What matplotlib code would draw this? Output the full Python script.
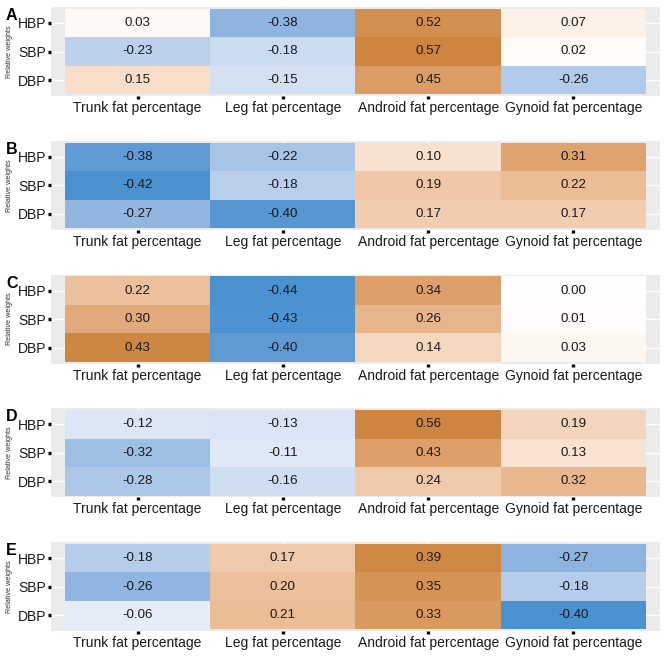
import numpy as np
import matplotlib
matplotlib.use("Agg")
import matplotlib.pyplot as plt
from matplotlib.colors import ListedColormap, Normalize

plt.rcParams['font.family'] = ['Liberation Sans', 'DejaVu Sans']

columns = ["Trunk fat percentage", "Leg fat percentage", "Android fat percentage", "Gynoid fat percentage"]
rows = ["HBP", "SBP", "DBP"]
panel_labels = ["A", "B", "C", "D", "E"]

# values[row][col]
values_A = [[0.03, -0.38, 0.52, 0.07],
            [-0.23, -0.18, 0.57, 0.02],
            [0.15, -0.15, 0.45, -0.26]]
values_B = [[-0.38, -0.22, 0.10, 0.31],
            [-0.42, -0.18, 0.19, 0.22],
            [-0.27, -0.40, 0.17, 0.17]]
values_C = [[0.22, -0.44, 0.34, 0.00],
            [0.30, -0.43, 0.26, 0.01],
            [0.43, -0.40, 0.14, 0.03]]
values_D = [[-0.12, -0.13, 0.56, 0.19],
            [-0.32, -0.11, 0.43, 0.13],
            [-0.28, -0.16, 0.24, 0.32]]
values_E = [[-0.18, 0.17, 0.39, -0.27],
            [-0.26, 0.20, 0.35, -0.18],
            [-0.06, 0.21, 0.33, -0.40]]
panels = [values_A, values_B, values_C, values_D, values_E]

LOW = (74, 145, 208)
HIGH = (205, 133, 63)
MID = (255, 255, 255)


# --- Lab interpolation (like scales::div_gradient_pal) ---
def _srgb_to_lin(c):
    c = np.asarray(c, float) / 255.0
    return np.where(c <= 0.04045, c / 12.92, ((c + 0.055) / 1.055) ** 2.4)


def _lin_to_srgb(c):
    c = np.clip(c, 0, 1)
    return np.where(c <= 0.0031308, 12.92 * c, 1.055 * c ** (1 / 2.4) - 0.055)


M = np.array([[0.4124, 0.3576, 0.1805], [0.2126, 0.7152, 0.0722], [0.0193, 0.1192, 0.9505]])
Minv = np.linalg.inv(M)
WP = np.array([0.95047, 1.0, 1.08883])


def rgb2lab(rgb):
    xyz = M @ _srgb_to_lin(rgb) / WP
    f = np.where(xyz > 0.008856, np.cbrt(xyz), 7.787 * xyz + 16 / 116)
    return np.array([116 * f[1] - 16, 500 * (f[0] - f[1]), 200 * (f[1] - f[2])])


def lab2rgb(lab):
    fy = (lab[0] + 16) / 116
    fx = fy + lab[1] / 500
    fz = fy - lab[2] / 200
    f = np.array([fx, fy, fz])
    xyz = np.where(f ** 3 > 0.008856, f ** 3, (f - 16 / 116) / 7.787) * WP
    return _lin_to_srgb(Minv @ xyz)


labL, labM, labH = rgb2lab(LOW), rgb2lab(MID), rgb2lab(HIGH)
cols = []
for t in np.linspace(0, 1, 256):
    if t < 0.5:
        s = t / 0.5
        lab = labL + (labM - labL) * s
    else:
        s = (t - 0.5) / 0.5
        lab = labM + (labH - labM) * s
    cols.append(lab2rgb(lab))
cmap = ListedColormap(np.clip(np.array(cols), 0, 1))

W, H = 669, 669
fig = plt.figure(figsize=(W / 100, H / 100), dpi=100)

left, right = 51, 660
ph = 89
step = 133.8
xexp, yexp = 0.096, 0.06

for i, (vals, lab) in enumerate(zip(panels, panel_labels)):
    top = 7 + step * i
    ax = fig.add_axes([left / W, 1 - (top + ph) / H, (right - left) / W, ph / H])
    ax.set_facecolor("#EBEBEB")
    ax.set_axisbelow(True)
    ax.grid(True, color="white", linewidth=1.0)
    Z = np.array(vals)
    m = np.abs(Z).max()
    norm = Normalize(-m, m)
    ax.pcolormesh(np.arange(len(columns) + 1) - 0.5, np.arange(len(rows) + 1) - 0.5, Z,
                  cmap=cmap, norm=norm, shading="flat", edgecolors="none", zorder=2)
    for r in range(len(rows)):
        for c in range(len(columns)):
            ax.text(c, r, f"{Z[r, c]:.2f}", ha="center", va="center", fontsize=9.6,
                    color="#1a1a1a", zorder=3)
    ax.set_xlim(-0.5 - xexp, len(columns) - 0.5 + xexp)
    ax.set_ylim(len(rows) - 0.5 + yexp, -0.5 - yexp)
    ax.set_xticks(range(len(columns)))
    ax.set_xticklabels(columns, fontsize=10, color="#1a1a1a")
    ax.set_yticks(range(len(rows)))
    ax.set_yticklabels(rows, fontsize=10, color="#1a1a1a")
    ax.tick_params(length=2.4, width=2.4, color="black", pad=1.2)
    for s in ax.spines.values():
        s.set_visible(False)
    fig.text(10 / W, 1 - (top + ph / 2) / H, "Relative weights", rotation=90,
             ha="center", va="center", fontsize=5.2, color="#333333")
    fig.text(6 / W, 1 - (top + 1) / H, lab, ha="left", va="top", fontsize=11.5,
             fontweight="bold", color="black")

fig.savefig("out.png", dpi=100)
